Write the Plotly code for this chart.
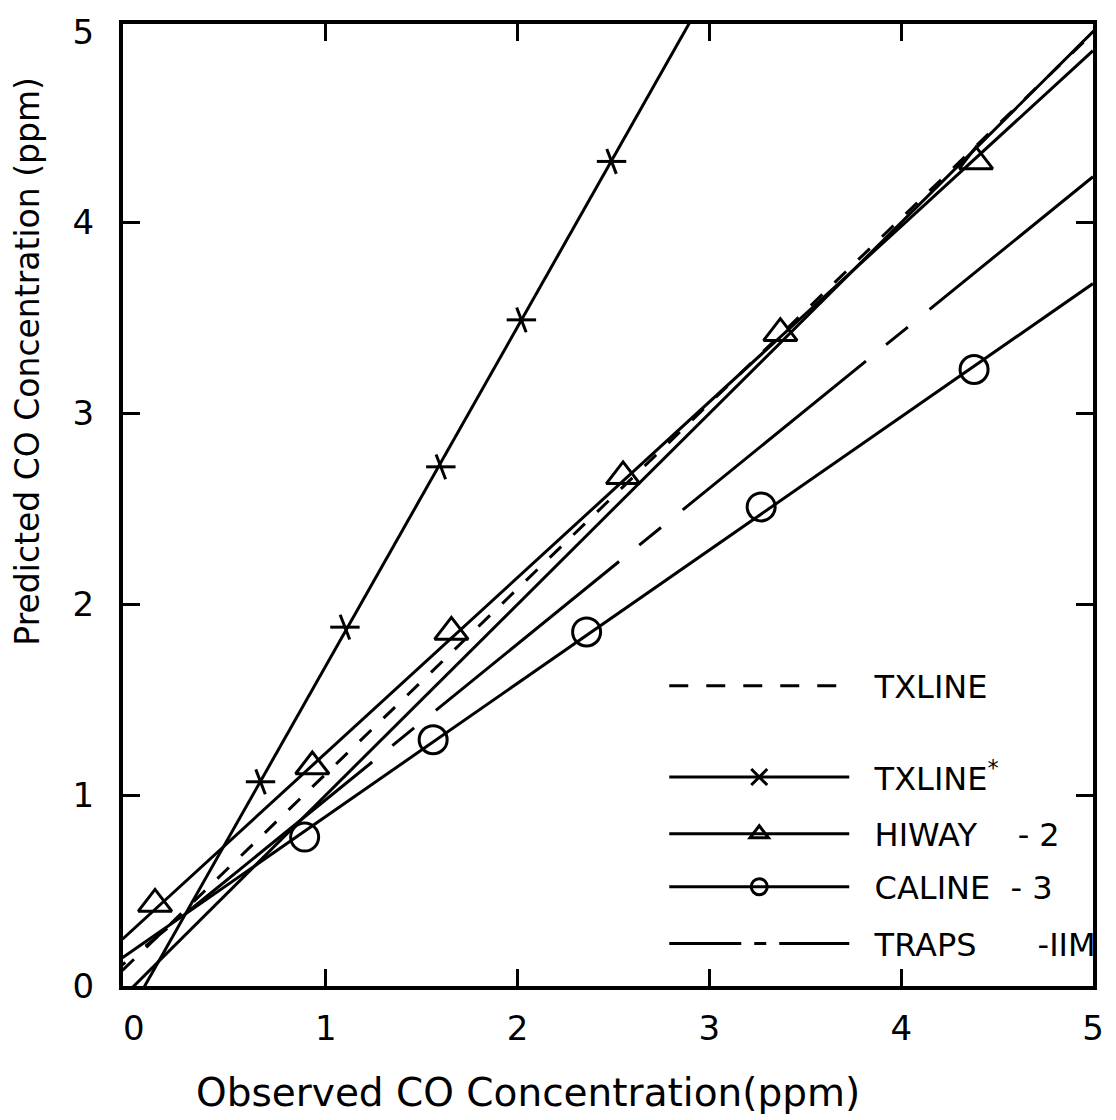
import plotly.graph_objects as go

FONT = "DejaVu Sans"

# ---------------- data ----------------
label_vals = [0, 1, 2, 3, 4, 5]
label_text = ["0", "1", "2", "3", "4", "5"]
tick_vals = [1, 2, 3, 4]          # tick marks drawn on the frame

# 1:1 reference line
one_x = [-0.06, 5.1]
one_y = [-0.06, 5.1]

# TXLINE regression (dashed)
txline_x = [-0.06, 5.1]
txline_y = [0.082, 5.09]

# TXLINE* points and regression
txs_obs = [0.66, 1.10, 1.60, 2.02, 2.49]
txs_pred = [1.07, 1.88, 2.72, 3.49, 4.32]
txs_line_x = [0.0, 3.0]
txs_line_y = [-0.10, 5.23]

# HIWAY-2 points and regression
hw_obs = [0.11, 0.93, 1.655, 2.55, 3.37, 4.39]
hw_pred = [0.43, 1.15, 1.855, 2.67, 3.42, 4.32]
hw_line_x = [-0.06, 5.0]
hw_line_y = [0.245, 4.90]

# CALINE-3 points and regression
cl_obs = [0.89, 1.56, 2.36, 3.27, 4.38]
cl_pred = [0.78, 1.29, 1.855, 2.51, 3.23]
cl_line_x = [-0.06, 5.0]
cl_line_y = [0.148, 3.68]

# TRAPS-IIM regression (long dash - short dash)
tr_line_x = [-1.0, 5.0]
tr_line_y = [-0.656, 4.24]

X_RANGE = [-0.057, 5.0]
Y_RANGE = [0, 5.04]

# ---------------- figure ----------------
fig = go.Figure()
LW = 3
BLACK = "black"
TX_DASH = "16px,17px"
TR_DASH = "236px,26px,28px,28px"


def add_line(x, y, dash="solid", xa="x", ya="y"):
    fig.add_trace(go.Scatter(x=x, y=y, mode="lines", xaxis=xa, yaxis=ya,
                             line=dict(color=BLACK, width=LW, dash=dash),
                             showlegend=False, hoverinfo="skip"))


add_line(one_x, one_y, xa="x2", ya="y2")
add_line(txline_x, txline_y, TX_DASH)
add_line(txs_line_x, txs_line_y)
add_line(hw_line_x, hw_line_y)
add_line(cl_line_x, cl_line_y)
add_line(tr_line_x, tr_line_y, TR_DASH)

# markers
fig.add_trace(go.Scatter(x=txs_obs, y=txs_pred, mode="markers", showlegend=False, hoverinfo="skip",
                         marker=dict(symbol="line-ew", size=21, line=dict(color=BLACK, width=3))))
fig.add_trace(go.Scatter(x=txs_obs, y=txs_pred, mode="markers", showlegend=False, hoverinfo="skip",
                         marker=dict(symbol="line-ns", size=19, angle=-21, line=dict(color=BLACK, width=3))))
fig.add_trace(go.Scatter(x=hw_obs, y=hw_pred, mode="markers", showlegend=False, hoverinfo="skip",
                         marker=dict(symbol="triangle-up-open", size=29, color=BLACK, line=dict(color=BLACK, width=3))))
fig.add_trace(go.Scatter(x=cl_obs, y=cl_pred, mode="markers", showlegend=False, hoverinfo="skip",
                         marker=dict(symbol="circle-open", size=28, color=BLACK, line=dict(color=BLACK, width=3))))

# legend entries (one legend per row)
NB = "\u00a0"
PAD = NB * 2
legend_items = [
    (PAD + "TXLINE", "lines", dict(color=BLACK, width=LW, dash="19px,18px"), None, "legend"),
    (PAD + "TXLINE<sup>*</sup>", "lines+markers", dict(color=BLACK, width=LW),
     dict(symbol="x-thin-open", size=16, color=BLACK, line=dict(color=BLACK, width=3)), "legend2"),
    (PAD + "HIWAY" + NB * 4 + "- 2", "lines+markers", dict(color=BLACK, width=LW),
     dict(symbol="triangle-up-open", size=16, color=BLACK, line=dict(color=BLACK, width=3)), "legend3"),
    (PAD + "CALINE" + NB * 2 + "- 3", "lines+markers", dict(color=BLACK, width=LW),
     dict(symbol="circle-open", size=16, color=BLACK, line=dict(color=BLACK, width=3)), "legend4"),
    (PAD + "TRAPS" + NB * 6 + "-IIM", "lines", dict(color=BLACK, width=LW, dash="72px,13px,12px,13px"), None, "legend5"),
]
for name, mode, ln, mk, lg in legend_items:
    kw = dict(x=[None], y=[None], mode=mode, name=name, line=ln, legend=lg, hoverinfo="skip")
    if mk is not None:
        kw["marker"] = mk
    fig.add_trace(go.Scatter(**kw))

frame = dict(showline=True, linewidth=4, linecolor=BLACK, showgrid=False, zeroline=False)
label_axis = dict(ticks="", tickvals=label_vals, ticktext=label_text,
                  tickfont=dict(family=FONT, size=34, color=BLACK), **frame)
tick_axis = dict(ticks="inside", ticklen=17, tickwidth=3, tickcolor=BLACK, mirror="ticks",
                 tickvals=tick_vals, showticklabels=False, **frame)

fig.update_layout(
    width=1116, height=1120,
    margin=dict(l=123, r=12, t=14, b=134),
    paper_bgcolor="white", plot_bgcolor="white",
    xaxis=dict(range=X_RANGE, ticklabelstandoff=9, mirror=True, **label_axis),
    yaxis=dict(range=Y_RANGE, ticklabelstandoff=18, mirror=True, **label_axis),
    xaxis2=dict(range=X_RANGE, overlaying="x", anchor="y2", **tick_axis),
    yaxis2=dict(range=Y_RANGE, overlaying="y", anchor="x2", **tick_axis),
)

leg_common = dict(font=dict(family=FONT, size=32, color=BLACK), bgcolor="rgba(0,0,0,0)",
                  borderwidth=0, itemwidth=180, xanchor="left", yanchor="middle", x=0.558)
fig.update_layout(
    legend=dict(y=0.312, **leg_common),
    legend2=dict(y=0.217, **leg_common),
    legend3=dict(y=0.158, **leg_common),
    legend4=dict(y=0.103, **leg_common),
    legend5=dict(y=0.044, **leg_common),
    annotations=[
        dict(text="Observed CO Concentration(ppm)", xref="paper", yref="paper",
             x=0.418, y=-0.111, xanchor="center", yanchor="middle", showarrow=False,
             font=dict(family=FONT, size=39, color=BLACK)),
        dict(text="Predicted CO Concentration (ppm)", xref="paper", yref="paper",
             x=-0.098, y=0.65, xanchor="center", yanchor="middle", showarrow=False,
             textangle=-90, font=dict(family=FONT, size=33, color=BLACK)),
    ],
)

fig.write_html("out.html")
